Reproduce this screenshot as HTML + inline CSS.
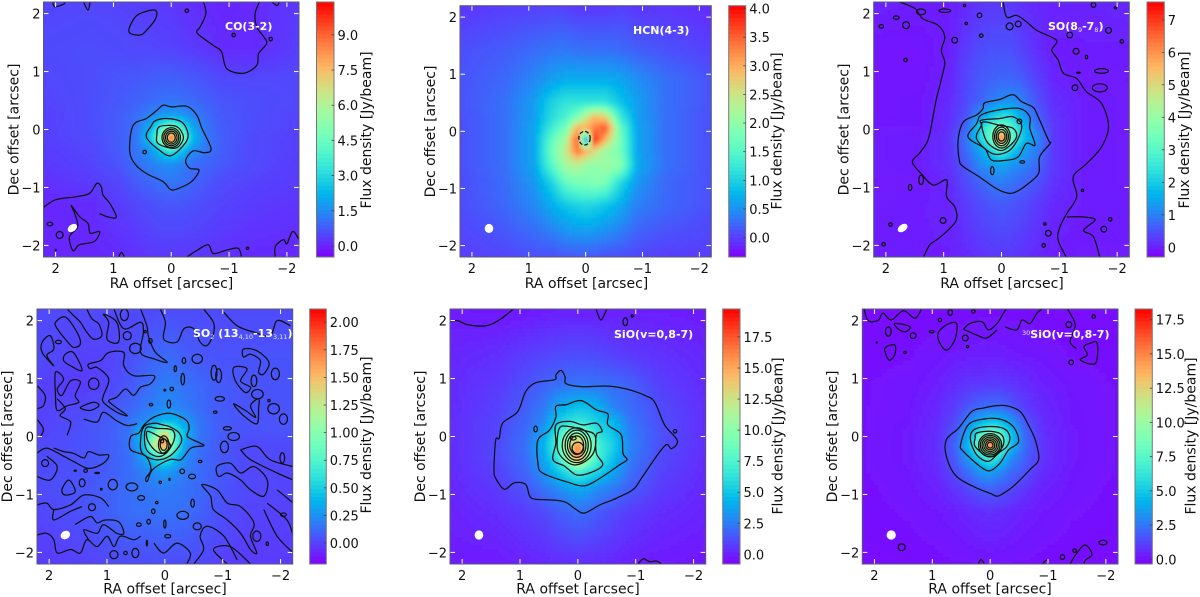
<!DOCTYPE html>
<html lang="en">
<head>
<meta charset="utf-8">
<title>Molecular line flux density maps</title>
<style>
html,body{margin:0;padding:0;background:#fff;width:1200px;height:597px;overflow:hidden}
svg{display:block}
text{font-family:"DejaVu Sans","Liberation Sans",sans-serif;fill:#111}
.axt{font-size:14px;text-anchor:middle}
.ttl{font-size:11px;font-weight:bold;fill:#fff}
.sub{font-size:6.5px;fill:#e8e8ff;font-weight:normal}
.tick{font-size:13px}
</style>
</head>
<body>
<svg id="figure" width="1200" height="597" viewBox="0 0 1200 597" xmlns="http://www.w3.org/2000/svg">
<defs>
<filter id="soft" x="-5%" y="-5%" width="110%" height="110%"><feGaussianBlur stdDeviation="1.6"/></filter>
</defs>
<g id="plots"></g>

<text class="axt" x="171.5" y="288">RA offset [arcsec]</text>
<text class="axt" transform="translate(18.5 129.5) rotate(-90)">Dec offset [arcsec]</text>
<text class="axt" transform="translate(371 130) rotate(-90)">Flux density [Jy/beam]</text>
<text class="ttl" x="225" y="30">CO(3-2)</text>

<text class="axt" x="586.5" y="288">RA offset [arcsec]</text>
<text class="axt" transform="translate(435 131.5) rotate(-90)">Dec offset [arcsec]</text>
<text class="axt" transform="translate(781.5 131) rotate(-90)">Flux density [Jy/beam]</text>
<text class="ttl" x="633" y="34">HCN(4-3)</text>

<text class="axt" x="1002" y="288">RA offset [arcsec]</text>
<text class="axt" transform="translate(848.5 129.5) rotate(-90)">Dec offset [arcsec]</text>
<text class="axt" transform="translate(1189 130) rotate(-90)">Flux density [Jy/beam]</text>
<text class="ttl" x="1048" y="30">SO(8<tspan class="sub" dy="2">9</tspan><tspan dy="-2">-7</tspan><tspan class="sub" dy="2">8</tspan><tspan dy="-2">)</tspan></text>

<text class="axt" x="165" y="593.5">RA offset [arcsec]</text>
<text class="axt" transform="translate(12 436.5) rotate(-90)">Dec offset [arcsec]</text>
<text class="axt" transform="translate(371 435) rotate(-90)">Flux density [Jy/beam]</text>
<text class="ttl" x="193" y="337">SO<tspan class="sub" dy="2">2</tspan><tspan dy="-2"> (13</tspan><tspan class="sub" dy="2">4,10</tspan><tspan dy="-2">-13</tspan><tspan class="sub" dy="2">3,11</tspan><tspan dy="-2">)</tspan></text>

<text class="axt" x="578" y="593.5">RA offset [arcsec]</text>
<text class="axt" transform="translate(425 436.5) rotate(-90)">Dec offset [arcsec]</text>
<text class="axt" transform="translate(782.5 436) rotate(-90)">Flux density [Jy/beam]</text>
<text class="ttl" x="614" y="338">SiO(v=0,8-7)</text>

<text class="axt" x="990" y="593.5">RA offset [arcsec]</text>
<text class="axt" transform="translate(837 436.5) rotate(-90)">Dec offset [arcsec]</text>
<text class="axt" transform="translate(1195.5 436) rotate(-90)">Flux density [Jy/beam]</text>
<text class="ttl" x="1022" y="338"><tspan class="sub" dy="-3">30</tspan><tspan dy="3">SiO(v=0,8-7)</tspan></text>
</svg>
<script>
/* ---------- shared axis data (arcsec) ---------- */
const raNodes = [2.2,1.4,0.9,0.6,0.35,0.15,0,-0.15,-0.35,-0.6,-0.9,-1.4,-2.2];
const decNodes = [2.2,1.4,0.9,0.5,0.25,0.05,-0.15,-0.35,-0.6,-0.9,-1.3,-2.2];
const offsetTicks = [2,1,0,-1,-2];

/* ---------- colorbar ticks ---------- */
const coBarTicks = ['0.0','1.5','3.0','4.5','6.0','7.5','9.0'];
const hcnBarTicks = ['0.0','0.5','1.0','1.5','2.0','2.5','3.0','3.5','4.0'];
const soBarTicks = ['0','1','2','3','4','5','6','7'];
const so2BarTicks = ['0.00','0.25','0.50','0.75','1.00','1.25','1.50','1.75','2.00'];
const sioBarTicks = ['0.0','2.5','5.0','7.5','10.0','12.5','15.0','17.5'];
const sio30BarTicks = ['0.0','2.5','5.0','7.5','10.0','12.5','15.0','17.5'];

/* ---------- colour ranges (Jy/beam) ---------- */
const coRange = [-0.47,10.4];
const hcnRange = [-0.34,4.05];
const soRange = [-0.3,7.55];
const so2Range = [-0.19,2.12];
const sioRange = [-0.78,19.75];
const sio30Range = [-0.34,18.28];

/* ---------- flux maps: rows by Dec, columns by RA ---------- */
const coValues = [
[.45,.5,.45,.4,.35,.3,.3,.2,.15,.1,.05,.1,.3],
[.55,.6,.55,.5,.5,.45,.45,.4,.35,.25,.1,.1,.4],
[.5,.6,.7,.75,.8,.85,.85,.8,.75,.65,.5,.5,.5],
[.45,.6,.75,.9,1,1.1,1.15,1.1,1,.85,.7,.6,.5],
[.4,.6,.8,1.05,1.4,1.7,1.85,1.75,1.4,1.05,.75,.6,.45],
[.4,.6,.8,1.15,2.2,3.8,4.5,3.8,2.1,1.15,.8,.6,.45],
[.4,.55,.8,1.2,2.8,5.5,10.3,5.5,2.6,1.25,.8,.55,.4],
[.35,.5,.8,1.2,1.7,3,3.5,2.8,1.6,1.2,.8,.55,.4],
[.3,.45,.7,1.1,1.35,1.5,1.6,1.4,1.1,.95,.75,.55,.35],
[.2,.35,.5,.8,1,1.15,1.2,1.15,.95,.75,.55,.45,.35],
[.05,.1,.35,.5,.6,.7,.7,.7,.65,.55,.45,.35,.25],
[.05,.05,.1,.2,.3,.3,.3,.3,.3,.25,.2,.1,.05]];
const hcnValues = [
[-.05,0,0,.02,0,-.05,-.05,-.05,-.05,0,-.05,-.05,-.1],
[.1,.18,.28,.33,.35,.32,.3,.3,.3,.28,.2,.12,.02],
[.12,.25,.45,.6,.7,.7,.7,.7,.7,.65,.5,.3,.12],
[.12,.3,.6,1,1.2,1.2,1.2,1.2,1.2,.9,.6,.3,.12],
[.1,.3,.6,1.1,1.4,1.8,2.4,2.9,2.7,1.3,.6,.3,.1],
[.1,.3,.65,1.3,1.8,3,3,3.3,3.6,1.7,.65,.3,.1],
[.1,.3,.65,1.6,2.2,3.7,.4,3.9,2.9,1.8,.65,.3,.1],
[.1,.3,.65,1.7,2.4,3.4,3,2.6,2.1,1.8,.65,.3,.1],
[.1,.3,.65,1.5,2.2,2.3,2.1,2,2.1,2,.7,.3,.1],
[.08,.28,.55,1,1.6,1.8,1.8,1.9,1.8,1.1,.55,.25,.1],
[.08,.25,.45,.7,.9,1,1.05,1,.9,.7,.4,.25,.1],
[0,.05,.1,.1,.15,.15,.15,.15,.1,.1,.05,0,0]];
const soValues = [
[.05,0,0,.1,.2,.25,.25,.25,.15,.1,.05,.05,.1],
[-.1,-.1,0,.3,.45,.5,.5,.5,.35,.15,0,0,0],
[-.1,-.1,.05,.4,.6,.65,.7,.7,.6,.35,.05,-.05,-.05],
[-.1,-.05,.1,.45,.7,1,1.1,1.2,1,.55,.15,0,-.05],
[-.1,-.05,.15,.5,1.3,1.9,2.2,2.2,1.4,.7,.2,0,-.05],
[-.05,-.05,.15,.7,2.2,3,3.4,3,2,.9,.25,0,-.05],
[-.05,0,.2,.9,2.2,3.5,7.3,3.5,2,1.2,.25,0,-.05],
[-.05,0,.2,.8,1.5,2.3,3,2.2,1.5,1,.25,0,-.05],
[-.05,0,.2,.6,1.2,1.4,1.5,1.3,1.1,.8,.25,0,-.05],
[-.05,-.05,.1,.45,.7,.95,1,.9,.75,.55,.2,0,-.05],
[-.05,0,.05,.3,.45,.55,.6,.55,.45,.3,.1,0,0],
[0,0,0,.1,.2,.25,.25,.25,.2,.1,0,-.05,-.05]];
const so2Values = [
[.02,.02,.02,.02,.02,.03,.03,.03,.03,.03,.03,.03,.03],
[.03,0,.01,.04,.08,.1,.12,.12,.08,.07,.05,.05,.05],
[0,-.02,.02,.07,.12,.16,.18,.18,.15,.12,.08,.06,.05],
[0,.02,.06,.11,.16,.2,.24,.22,.18,.13,.08,.05,.05],
[0,.04,.09,.15,.24,.32,.4,.42,.3,.16,.09,.05,.05],
[0,.05,.09,.16,.5,.9,1.5,.75,.42,.16,.09,.05,.05],
[.02,.05,.09,.16,.45,1.4,1.8,.9,.28,.15,.08,.02,.03],
[.02,.05,.09,.14,.32,.6,.7,.5,.25,.13,.08,.02,.02],
[.03,.05,.09,.14,.2,.27,.3,.25,.18,.13,.08,.02,.01],
[.03,.06,.1,.14,.16,.18,.18,.17,.15,.12,.07,.02,.01],
[.01,.05,.1,.14,.14,.15,.15,.15,.14,.1,.05,.01,0],
[-.02,0,.02,.03,.03,.04,.04,.03,.03,.02,0,-.02,-.02]];
const sioValues = [
[-.1,-.2,-.2,-.1,0,0,0,0,0,0,0,0,-.1],
[.2,.4,.8,1,1.1,1.2,1.2,1.2,1.1,.9,.7,.5,.2],
[.3,.7,1.3,1.8,2.1,2.2,2.3,2.3,2.2,2.1,1.8,.9,.3],
[.3,.9,1.7,2.4,3.8,4.5,4.8,4.8,4.2,2.8,2.1,1.2,.4],
[.35,1,1.9,2.9,5.2,6.2,6.6,6.3,5.3,4.6,2.4,1.3,.4],
[.35,1,2.1,3.6,6.8,9.2,9.8,8.5,6.2,5,2.6,1.4,.4],
[.35,1.1,2.2,4.3,7.4,12,17,11,7.3,5.5,2.8,1.3,.4],
[.3,1.1,2.1,3.9,6.6,11,17,11,7.2,5,2.6,1.2,.35],
[.3,.9,1.9,3.2,5,6.5,7.4,6.6,5.6,4,2.2,1,.3],
[.2,.7,1.4,2.3,2.9,3.6,4,3.8,3,2.5,1.7,.8,.2],
[.1,.4,.8,1.1,1.6,1.9,2.1,2,1.6,1.2,.8,.4,.1],
[-.1,-.1,.1,.2,.3,.3,.35,.3,.3,.2,0,-.1,-.2]];
const sio30Values = [
[-.1,-.1,-.05,-.05,-.05,0,0,0,0,0,-.05,-.1,-.1],
[0,.05,.2,.3,.35,.35,.35,.35,.3,.25,.2,.05,0],
[.05,.15,.4,.7,.9,.95,1,1,.9,.7,.4,.2,.05],
[.05,.2,.6,1.1,1.8,2.2,2.3,2.3,1.8,1.1,.6,.25,.05],
[.05,.25,.7,1.4,3.2,4.4,5,4.8,3.6,1.7,.7,.25,.05],
[.05,.3,.75,1.8,4.2,7.2,8.6,7.8,5,2.1,.8,.3,.05],
[.05,.3,.8,2.1,4.8,9.5,18,9.5,4.9,2.2,.85,.3,.05],
[.05,.3,.75,1.9,3.9,5.8,7.2,5.8,3.2,2,.85,.3,.05],
[.05,.25,.65,1.5,2.5,3.6,3.8,3.2,2.3,1.6,.7,.25,.05],
[0,.2,.45,.9,1.4,1.8,2,1.8,1.4,.9,.45,.2,0],
[0,.1,.25,.4,.6,.7,.75,.7,.6,.4,.25,.1,0],
[-.1,-.05,0,.05,.05,.1,.1,.1,.05,.05,0,-.05,-.1]];

/* ---------- contour curves: flat RA,Dec lists; first==last means closed ---------- */
const coContours = [
[.14,.42,-.01,.39,-.27,.40,-.44,.25,-.53,.02,-.69,-.33,-.58,-.40,-.38,-.37,-.25,-.53,-.32,-.67,-.48,-.70,-.35,-.90,-.09,-1.03,.02,-1.03,.14,-.90,.43,-.76,.63,-.59,.72,-.36,.66,.07,.43,.19,.25,.33,.14,.42],
[.28,.15,.08,.19,-.18,.13,-.29,-.07,-.24,-.24,0,-.45,.2,-.36,.43,-.13,.34,.07,.28,.15],
[.2,.05,-.09,.05,-.21,-.13,-.12,-.3,.02,-.32,.23,-.24,.25,-.1,.2,.05],
[-.55,2.23,-.6,2,-.5,1.77,-.45,1.66,-.73,1.45,-.87,1.34,-.96,1.05,-1.25,.97,-1.48,1.11,-1.51,1.31,-1.65,1.48,-1.6,1.6,-1.48,1.77,-1.45,2,-1.54,2.23],
[.66,1.89,.54,2,.28,2.06,.27,1.91,.43,1.71,.54,1.63,.73,1.68,.66,1.89],
[2.05,2.23,2.02,2.12,1.85,2.17,1.85,2.23],
[1.53,2.23,1.44,2.06,1.4,2.23],
[-1.71,2.23,-1.83,2.14,-1.88,2.23],
[2.3,-1.42,2.02,-1.22,1.64,-1.16,1.41,-1.1,1.29,-.93,1.21,-.99,1.18,-1.13,1.06,-1.28,.95,-1.51,1.09,-1.51,1.24,-1.45],
[1.73,-1.31,1.58,-1.51,1.44,-1.62,1.4,-1.79,1.24,-1.76,1.33,-1.93,1.59,-1.99,1.7,-2.09,1.76,-1.85,1.62,-1.68,1.67,-1.45,1.73,-1.31],
[-.24,-2.22,-.44,-2.09,-.64,-1.99,-.73,-2.14,-.96,-2.08,-1.16,-2.05,-1.22,-2.22],
[.92,-2.22,.86,-2.12,.8,-2.22],
[-1.8,-2.22,-1.8,-2.02,-1.94,-1.9,-2,-1.97,-2.1,-1.76,-2.2,-1.88,-2.25,-1.95]];
const coLoops = [0,-.14,.16,.17, 0,-.14,.13,.14, 0,-.14,.1,.11, 0,-.14,.07,.08, -.27,2.05,.03,.03, -1.08,1.63,.03,.03, -1.72,1.56,.03,.03, .46,-.39,.03,.03, -1.32,-2.05,.02,.02, 2.1,-1.63,.05,.03, 1.93,-1.82,.06,.06, 2,-2.08,.01,.01];

const hcnContours = [];
const hcnLoops = [];
const hcnDashedLoops = [.02,-.12,.1,.12];

const soContours = [
[.29,.46,.03,.52,-.2,.6,-.35,.48,-.55,.38,-.62,.25,-.81,-.18,-.84,-.24,-.66,-.47,-.64,-.76,-.43,-.96,-.26,-1.07,-.12,-1.1,.09,-1.02,.38,-.82,.66,-.64,.73,-.53,.75,-.18,.66,.13,.43,.25,.32,.36,.29,.46],
[.35,.25,.03,.34,-.32,.36,-.49,.22,-.49,.02,-.58,-.27,-.43,-.24,-.29,-.47,-.09,-.53,.17,-.53,.29,-.33,.58,-.13,.43,.1,.35,.25],
[.35,.16,.03,.19,-.2,.22,-.35,.07,-.26,-.21,-.09,-.39,.17,-.41,.43,-.16,.35,.07,.35,.16],
[.32,.13,.03,.07,-.2,.02,-.26,-.13,-.12,-.3,.03,-.36,.23,-.24,.32,-.04,.32,.13],
[1.76,2.2,1.5,2.09,1.36,1.91,1.1,1.8,.98,1.6,1.04,1.37,.98,1.17,1.01,.99,1.13,.51,1.18,.25,1.27,-.18,1.42,-.41,1.54,-.56,1.39,-.76,1.18,-.96,.95,-.87,.95,-1.16,.81,-1.33,.78,-1.56,.95,-1.76,1.13,-1.91,1.24,-1.99,1.36,-2.22],
[-.03,2.2,-.09,1.94,-.26,1.97,-.43,1.86,-.61,1.71,-.95,1.54,-.87,1.37,-.98,1.2,-1.07,.97,-1.3,.88,-1.47,.65,-1.73,.45,-1.85,.05,-1.73,-.3,-1.47,-.59,-1.24,-.82,-1.3,-1.16,-1.13,-1.45,-1.01,-1.68,-.98,-1.91,-1.13,-2.22],
[-1.13,-1.51,-1.42,-1.51,-1.62,-1.56,-1.42,-1.74,-1.59,-1.85,-1.7,-2.2]];
const soLoops = [0,-.12,.15,.2, 0,-.12,.12,.16, 0,-.12,.09,.12, 0,-.12,.06,.08, -.31,.14,.04,.04, .16,-.71,.03,.07, -.36,-.56,.04,.02, 1.65,1.8,.06,.06, 1.82,1.93,.05,.03, 2.08,1.78,.04,.03, 1.39,2.03,.08,.05, .98,2.05,.1,.03, .81,1.54,.05,.05, .35,1.62,.03,.03, .38,1.97,.04,.04, -.14,1.78,.06,.06, -.29,1.82,.05,.05, .61,1.83,.02,.02, 1.66,1.2,.03,.03, -1.29,1.35,.05,.05, -1.47,1.25,.02,.03, -1.73,1.01,.12,.04, -1.33,.98,.03,.01, -1.27,.72,.05,.05, -1.7,.72,.13,.07, 1.39,-.87,.04,.08, 1.58,-1,.03,.05, -1.4,-1.05,.02,.02, 1.01,-1.57,.05,.05, 1.92,-1.64,.03,.03, -.75,-1.63,.02,.02, -.81,-1.79,.05,.05, -1.77,-1.72,.05,.05, -1.88,-1.55,.03,.03, 2.04,-1.98,.03,.03, -.73,-2,.03,.03, -2.08,1.52,.03,.03, -1.97,2.1,.02,.02, -1.59,2.15,.04,.04, -1.18,1.63,.05,.05, -1.85,1.71,.05,.05, .64,2.14,.02,.02];

const so2Contours = [
[.18,.34,-.08,.4,-.36,.29,-.42,.14,-.39,0,-.6,-.11,-.67,-.16,-.45,-.2,-.28,-.4,-.08,-.4,.21,-.57,.3,-.77,.33,-.72,.24,-.57,.33,-.34,.59,-.23,.59,0,.45,.06,.36,.2,.18,.34],
[.36,.17,.18,.23,.04,.2,-.08,.17,-.25,.06,-.28,-.11,-.08,-.34,.16,-.4,.39,-.29,.42,-.06,.36,.17],
[.33,.14,.13,.14,-.13,.11,-.16,-.06,-.02,-.29,.16,-.34,.33,-.2,.33,.14],
[.3,.09,.1,0,-.02,-.06,-.1,-.17,.04,-.29,.18,-.23,.3,-.06,.3,.09],
[1.35,2.2,1.26,2.03,1.14,1.94,1.09,1.74,1.23,1.68,1.35,1.8,1.46,1.97,1.58,2.09,1.69,2.2],
[1.72,2.06,1.52,1.8,1.46,1.6,1.58,1.54,1.72,1.68,1.86,1.86,1.89,1.97,1.72,2.06],
[2.12,1.63,1.98,1.74,1.92,1.51,2.04,1.4,1.92,1.22,2.12,1.45,2.12,1.63],
[1.72,1.42,1.58,1.45,1.43,1.14,1.63,1.22,1.75,1.31,1.72,1.42],
[1.89,1.11,1.75,.99,1.86,.82,1.78,.71,1.63,.96,1.46,.94,1.55,.71,1.49,.59,1.69,.53,1.86,.45,1.89,.71,1.89,1.11],
[1.46,.5,1.23,.59,1.14,.53,1.29,.45,1.46,.5],
[1.32,1.25,1.11,1.31,.97,1.45,.71,1.45,.71,1.22,.54,1.05,.19,1.05,.25,.91,.42,.85,.54,.71,.68,.82,.83,.68,.97,.62,.88,.53,.65,.36,.83,.42,1.06,.59,1.06,.71,.97,.99,1.17,1.19,1.29,1.17,1.32,1.25],
[.88,2.2,.71,1.86,.42,1.97,.37,1.8,.42,1.45,.19,1.34,-.04,1.28,.16,1.45,.28,1.71,.31,1.91,.42,2.2],
[1.06,2.11,.83,1.97,.8,1.63,1,1.68,.97,1.97,1.06,2.11],
[.08,2.2,-.01,1.97,.02,1.68,-.21,1.63,-.33,1.86,-.5,1.86,-.61,1.63,-.73,1.57,-.84,1.77,-.84,1.97,-.67,2.2],
[-1.36,1.51,-1.59,1.48,-1.8,1.28,-1.71,1.08,-1.62,1.11,-1.65,1.31,-1.48,1.42,-1.36,1.37,-1.36,1.51],
[-1.19,1.19,-1.42,1.17,-1.31,.96,-1.48,.85,-1.39,.76,-1.22,.96,-1.19,1.19],
[-1.19,.56,-1.39,.45,-1.57,.33,-1.48,.53,-1.62,.65,-1.62,.48,-1.59,.22,-1.36,.36,-1.19,.56],
[-1.02,2.14,-1.25,1.91,-1.54,1.8,-1.82,1.74,-1.94,2,-2.17,1.91],
[2.21,.88,2.07,.71,2.1,.53,2.21,.48],
[2.21,.3,2.1,.13,2.15,0],
[1.86,.65,1.72,.48,1.81,.36,1.63,.25,1.69,.02],
[1.4,.3,1.17,.25,1.06,.42,.83,.27,.65,.19,.48,.22],
[2.21,-.29,2.04,-.2,1.75,-.34,1.58,-.43,1.32,-.55,1.06,-.46,.97,-.32,1.14,-.32,1.32,-.26,1.4,-.37,1.58,-.29,1.75,-.26,1.92,-.2],
[2.21,-.69,1.98,-.75,1.86,-.52,2.04,-.34],
[1.78,-.92,1.66,-.75,1.55,-.95,1.72,-1.01,1.78,-.92],
[2.21,-1.18,2.04,-1.15,1.92,-1.26,1.63,-1.18,1.4,-1.01,1.11,-1.06,.97,-1.21],
[1.92,-1.26,1.92,-1.44,1.63,-1.29,1.43,-1.21],
[1.55,-1.52,1.29,-1.38,1.17,-1.49,1.03,-1.44,.8,-1.47,.71,-1.67,.83,-1.67,1.06,-1.52,1.17,-1.67,1.4,-1.61,1.32,-1.78],
[2.21,-1.7,2.04,-1.67,1.92,-1.78,1.86,-2.01,1.63,-1.95,1.46,-2.01,1.35,-1.78,1.17,-1.9,1,-1.72,.88,-1.9,.77,-1.72,.54,-1.78,.42,-1.72],
[-.9,-.52,-1.13,-.46,-1.31,-.63,-1.54,-.52,-1.77,-.75,-1.71,-1.03,-1.48,-.92,-1.31,-.75,-1.08,-.63,-.93,-.69,-.9,-.52],
[-.64,-.83,-.9,-.92,-1.08,-1.15,-1.31,-1.21,-1.54,-1.49,-1.48,-1.72,-1.59,-2.01,-1.48,-1.95,-1.31,-1.67,-1.08,-1.44,-.84,-1.26,-.79,-1.03,-.64,-.83],
[-1.31,-.23,-1.59,-.17,-1.82,-.4,-2.22,-.52],
[-1.31,-.23,-1.48,-.4,-1.94,-.63,-2.22,-.75],
[-1.77,-1.15,-2.11,-1.44,-2.22,-1.72],
[-1.94,-.92,-2.22,-1.15],
[-1.71,-1.26,-1.94,-1.72,-2.22,-2.01],
[-1.25,-2.13,-1.02,-1.72,-.73,-1.55,-.61,-1.72,-.67,-1.95,-.5,-2.2],
[.19,-1.84,.02,-2.01,-.21,-1.84,-.44,-2.01,-.38,-2.2],
[-1.08,-2.2,-.84,-1.95,-1.13,-1.9,-1.48,-2.2]];
const so2Loops = [.02,-.14,.09,.15, .02,-.14,.06,.1, .05,-.08,.03,.03, 1.84,1.63,.05,.03, 1.23,.91,.09,.1, .65,1.74,.07,.07, .51,1.52,.1,.09, .7,2.1,.07,.1, .25,1.65,.03,.04, -.33,1.31,.03,.05, -.56,1.34,.09,.08, -.18,1.17,.02,.05, -.31,.99,.03,.1, -.12,.82,.03,.03, 0,.8,.015,.015, -.07,.56,.03,.07, .24,.55,.03,.02, .34,1.81,.02,.02, -.85,1.1,.05,.13, -.93,1.05,.05,.12, -1.54,.96,.05,.1, -1.91,1.08,.07,.1, -1.6,.73,.1,.08, -.95,.65,.08,.04, -1.88,.48,.1,.09, -2.05,.3,.07,.09, -1.08,.14,.07,.03, -.87,.42,.03,.02, -1.8,.62,.02,.02, 2.07,-.46,.06,.06, 1.43,-.8,.05,.07, 1.37,-.59,.03,.03, .9,-.83,.08,.09, .57,-.87,.1,.07, 1.1,-.91,.015,.015, 1.17,-.63,.04,.01, 1.55,-.59,.02,.01, 1.26,-1.22,.06,.06, .68,-2.01,.03,.03, .51,-2.01,.06,.08, .88,-2.04,.07,.07, .31,-1.84,.01,.05, .45,-1.52,.04,.03, .28,-1.47,.03,.04, 0,-1.51,.02,.07, .2,-1.29,.03,.04, .14,-1.14,.02,.02, .41,-1.06,.06,.04, -.48,-1.15,.03,.07, -.31,-1.36,.1,.07, -.56,-1.55,.07,.06, -.05,-1.72,.05,.03, -.3,-.6,.04,.04, -.47,-.69,.06,.04, -.61,-.43,.03,.02, -1.03,-.18,.07,.1, -1.19,0,.1,.07, .08,-.79,.02,.02, -.08,-.74,.01,.02, -2.05,-1.35,.05,.03, -2.03,-.37,.04,.09, -1.59,-1.72,.07,.09, -1.77,-1.85,.02,.03];

const sioContours = [
[.38,1.06,.29,1.14,.22,1.03,.2,.91,-.09,.86,-.52,.87,-.84,.82,-1.18,.7,-1.33,.59,-1.5,.2,-1.72,-.07,-1.62,-.21,-1.53,-.14,-1.36,-.34,-1.1,-.72,-.95,-.92,-.61,-1.09,-.38,-1.18,-.12,-1.32,.03,-1.26,.2,-1.14,.38,-1.1,.55,-1.09,.81,-1.06,.9,-.83,1.1,-.8,1.27,-.91,1.42,-.72,1.45,-.57,1.42,-.06,1.36,-.03,1.3,.23,1.04,.43,.9,.78,.72,.93,.4,.98,.38,1.06],
[.38,.52,.2,.55,-.06,.62,-.32,.46,-.52,.39,-.52,.2,-.75,.03,-.78,-.29,-.85,-.4,-.72,-.49,-.43,-.69,-.12,-.85,.2,-.78,.61,-.63,.69,-.46,.69,-.06,.49,.11,.38,.34,.38,.52],
[.38,.2,.14,.26,-.09,.2,-.32,.23,-.42,.09,-.32,.03,-.32,-.29,-.43,-.49,-.2,-.63,.03,-.66,.23,-.51,.43,-.4,.38,-.11,.38,.2],
[.32,.14,.14,.17,-.09,.11,-.29,.03,-.29,-.23,-.17,-.4,.03,-.49,.2,-.43,.35,-.23,.32,.14],
[2.23,1.98,2.08,2,1.91,1.93,1.59,1.91,1.36,2.01,1.1,2.21],
[-.31,2.21,-.4,2.01,-.5,2.2],
[-1.04,-2.2,-1.13,-2.11,-1.24,-2.16,-1.36,-2.15,-1.45,-2.2]];
const sioLoops = [.02,-.15,.25,.3, .02,-.15,.2,.26, .02,-.15,.16,.21, .02,-.15,.12,.16, .08,-.03,.05,.03, 0,-.2,.1,.1, -.82,1.98,.04,.07, -.94,2.08,.02,.02, .73,.13,.03,.05, -1.68,.09,.03,.03];

const sio30Contours = [
[.32,.43,.12,.49,-.09,.53,-.29,.53,-.52,.43,-.66,.2,-.78,-.06,-.84,-.39,-.69,-.57,-.4,-.86,-.23,-.98,-.12,-1.03,0,-.98,.23,-.89,.58,-.69,.75,-.37,.76,-.06,.55,.14,.32,.43],
[.38,.2,.12,.3,-.17,.3,-.4,.17,-.49,-.09,-.32,-.23,-.17,-.46,0,-.59,.17,-.52,.46,-.26,.51,-.14,.38,.2],
[.29,.11,.06,.17,-.23,.14,-.34,0,-.29,-.17,-.14,-.29,.03,-.43,.23,-.32,.34,-.06,.29,.11],
[.23,.06,0,.09,-.2,.03,-.23,-.14,-.09,-.32,.06,-.34,.26,-.17,.26,-.03,.23,.06],
[2.18,2.21,2.11,2,1.94,2,1.85,2.13,1.71,2.01,1.5,2.17,1.3,2.04,1.18,2.21],
[1.65,1.95,1.39,1.9,1.45,1.81,1.57,1.84,1.65,1.95],
[1.82,1.52,1.65,1.58,1.65,1.41,1.75,1.32,1.82,1.52],
[.9,1.78,.75,1.93,.58,1.95,.61,1.67,.75,1.49,.87,1.61,.9,1.78],
[.46,1.85,.35,1.95,.14,1.98,.03,1.84,-.12,1.95,-.23,2.13,-.29,2.21],
[.46,1.85,.23,1.75,.06,1.7,-.12,1.84],
[-.26,1.89,-.46,1.84,-.55,2.01,-.69,1.95,-.81,2.13,-.92,2.21],
[-1.33,2.21,-1.47,1.93,-1.38,1.64,-1.49,1.52],
[-1.62,1.55,-1.73,1.61,-1.85,1.61,-1.82,1.26,-1.56,1.32,-1.68,1.41,-1.62,1.55],
[-1.39,-2.2,-1.42,-2.13,-1.59,-1.9,-1.68,-1.89,-1.76,-2.04,-1.65,-2.13,-1.62,-2.2],
[.2,-2.2,.16,-2.12,.1,-2.2],
[-.9,-2.2,-.98,-2.13,-1.01,-2.2]];
const sio30Loops = [0,-.15,.2,.2, 0,-.15,.17,.17, 0,-.15,.14,.14, 0,-.15,.11,.11, 0,-.15,.08,.08, 0,-.15,.05,.05, 1.76,1.81,.05,.08, 1.33,1.74,.05,.05, 1.47,1.45,.02,.02, 1.96,1.62,.01,.01, .69,2.14,.04,.05, .87,2.01,.03,.03, 1.01,1.81,.04,.02, .29,2.16,.03,.03, .43,1.7,.05,.05, .39,1.55,.02,.02, -1.4,1.28,.04,.04, -1.36,1.93,.05,.05, -1.79,2.07,.03,.03, -1.95,-1.83,.07,.04, -1.25,-2.08,.04,.04, -1.46,-1.97,.03,.03, 1.53,-1.91,.06,.06];

/* beam centre, radii and tilt for each map */
const coBeam = [1.71,-1.70,.09,.06,-35];
const hcnBeam = [1.70,-1.70,.075,.08,0];
const soBeam = [1.71,-1.70,.095,.06,-35];
const so2Beam = [1.72,-1.70,.085,.07,-30];
const sioBeam = [1.71,-1.70,.075,.08,0];
const sio30Beam = [1.71,-1.70,.08,.08,0];

/* ---------- layout ---------- */
const panels = [
 {id:'co',   x0:43.5,y0:2,  x1:299,   y1:257,cx0:316.5,cx1:334,  range:coRange,   grid:coValues,   lines:coContours,   loops:coLoops,   dashed:[],             beam:coBeam,   bar:coBarTicks},
 {id:'hcn',  x0:460, y0:5.7,x1:711.3, y1:257,cx0:728.7,cx1:745.7,range:hcnRange,  grid:hcnValues,  lines:hcnContours,  loops:hcnLoops,  dashed:hcnDashedLoops, beam:hcnBeam,  bar:hcnBarTicks},
 {id:'so',   x0:873.7,y0:2, x1:1129.3,y1:257,cx0:1147, cx1:1164.3,range:soRange,  grid:soValues,   lines:soContours,   loops:soLoops,   dashed:[],             beam:soBeam,   bar:soBarTicks},
 {id:'so2',  x0:37,  y0:309,x1:292.7, y1:564,cx0:309.7,cx1:326.3,range:so2Range,  grid:so2Values,  lines:so2Contours,  loops:so2Loops,  dashed:[],             beam:so2Beam,  bar:so2BarTicks},
 {id:'sio',  x0:450, y0:309,x1:705.7, y1:564,cx0:722.7,cx1:740,  range:sioRange,  grid:sioValues,  lines:sioContours,  loops:sioLoops,  dashed:[],             beam:sioBeam,  bar:sioBarTicks},
 {id:'sio30',x0:862.3,y0:309,x1:1118, y1:564,cx0:1135, cx1:1152.3,range:sio30Range,grid:sio30Values,lines:sio30Contours,loops:sio30Loops,dashed:[],             beam:sio30Beam,bar:sio30BarTicks}
];

const NS = 'http://www.w3.org/2000/svg';
const RA_LEFT = 2.21, RA_SPAN = 4.42, DEC_TOP = 2.2, DEC_SPAN = 4.4;
const CELL = 4;

function make(tag, parent, attrs) {
  const el = document.createElementNS(NS, tag);
  for (const k in attrs) el.setAttribute(k, attrs[k]);
  parent.appendChild(el);
  return el;
}
function xScale(p, ra) { return p.x0 + (RA_LEFT - ra) / RA_SPAN * (p.x1 - p.x0); }
function yScale(p, dec) { return p.y0 + (DEC_TOP - dec) / DEC_SPAN * (p.y1 - p.y0); }
function xInv(p, px) { return RA_LEFT - (px - p.x0) / (p.x1 - p.x0) * RA_SPAN; }
function yInv(p, py) { return DEC_TOP - (py - p.y0) / (p.y1 - p.y0) * DEC_SPAN; }
function barScale(p, v) { return p.y1 - (v - p.range[0]) / (p.range[1] - p.range[0]) * (p.y1 - p.y0); }

function rainbow(t) {
  t = Math.max(0, Math.min(1, t));
  const r = Math.abs(2 * t - 0.5), g = Math.sin(Math.PI * t), b = Math.cos(Math.PI * t / 2);
  const c = v => Math.round(255 * Math.max(0, Math.min(1, v)));
  return 'rgb(' + c(r) + ',' + c(g) + ',' + c(b) + ')';
}
function bracket(nodes, v) {
  if (v >= nodes[0]) return [0, 0];
  for (let i = 0; i < nodes.length - 1; i++) {
    if (v >= nodes[i + 1]) return [i, (nodes[i] - v) / (nodes[i] - nodes[i + 1])];
  }
  return [nodes.length - 2, 1];
}
function sampleMap(grid, ra, dec) {
  const [i, fi] = bracket(raNodes, ra);
  const [j, fj] = bracket(decNodes, dec);
  const a = grid[j][i], b = grid[j][i + 1], c = grid[j + 1][i], d = grid[j + 1][i + 1];
  return (a * (1 - fi) + b * fi) * (1 - fj) + (c * (1 - fi) + d * fi) * fj;
}
function curvePath(p, flat) {
  const pts = [];
  for (let i = 0; i + 1 < flat.length; i += 2) pts.push([xScale(p, flat[i]), yScale(p, flat[i + 1])]);
  const closed = flat.length > 4 && flat[0] === flat[flat.length - 2] && flat[1] === flat[flat.length - 1];
  if (closed) pts.pop();
  const n = pts.length;
  const at = k => closed ? pts[(k + n) % n] : pts[Math.max(0, Math.min(n - 1, k))];
  let d = 'M' + pts[0][0].toFixed(1) + ' ' + pts[0][1].toFixed(1);
  const segs = closed ? n : n - 1;
  for (let k = 0; k < segs; k++) {
    const p0 = at(k - 1), p1 = at(k), p2 = at(k + 1), p3 = at(k + 2);
    d += 'C' + (p1[0] + (p2[0] - p0[0]) / 6).toFixed(1) + ' ' + (p1[1] + (p2[1] - p0[1]) / 6).toFixed(1) + ' ' +
         (p2[0] - (p3[0] - p1[0]) / 6).toFixed(1) + ' ' + (p2[1] - (p3[1] - p1[1]) / 6).toFixed(1) + ' ' +
         p2[0].toFixed(1) + ' ' + p2[1].toFixed(1);
  }
  return d + (closed ? 'Z' : '');
}
function label(parent, x, y, str, anchor) {
  const t = make('text', parent, {x: x, y: y, class: 'tick', 'text-anchor': anchor});
  t.textContent = str;
  return t;
}

const plots = document.getElementById('plots');
const defs = document.querySelector('defs');

panels.forEach(function (p) {
  const w = p.x1 - p.x0, h = p.y1 - p.y0;
  const clip = make('clipPath', defs, {id: 'clip-' + p.id});
  make('rect', clip, {x: p.x0, y: p.y0, width: w, height: h});

  const panel = make('g', plots, {});
  
  

  const inner = make('g', panel, {'clip-path': 'url(#clip-' + p.id + ')'});
  
  

  /* heatmap */
  const heat = make('g', inner, {filter: 'url(#soft)', 'shape-rendering': 'crispEdges'});
  
  
  const span = p.range[1] - p.range[0];
  for (let py = p.y0 - 8; py < p.y1 + 8; py += CELL) {
    for (let px = p.x0 - 8; px < p.x1 + 8; px += CELL) {
      const v = sampleMap(p.grid, xInv(p, px + CELL / 2), yInv(p, py + CELL / 2));
      const cell = make('rect', heat, {x: px, y: py, width: CELL + .5, height: CELL + .5, fill: rainbow((v - p.range[0]) / span)});
      
      
    }
  }

  /* contours */
  const cont = make('g', inner, {fill: 'none', stroke: '#111', 'stroke-width': 1.25});
  
  
  p.lines.forEach(function (flat) {
    const path = make('path', cont, {d: curvePath(p, flat)});
    
    
  });
  const sx = w / RA_SPAN, sy = h / DEC_SPAN;
  for (let i = 0; i + 3 < p.loops.length; i += 4) {
    const e = make('ellipse', cont, {cx: xScale(p, p.loops[i]), cy: yScale(p, p.loops[i + 1]), rx: p.loops[i + 2] * sx, ry: p.loops[i + 3] * sy});
    
    
  }
  for (let i = 0; i + 3 < p.dashed.length; i += 4) {
    const e = make('ellipse', cont, {cx: xScale(p, p.dashed[i]), cy: yScale(p, p.dashed[i + 1]), rx: p.dashed[i + 2] * sx, ry: p.dashed[i + 3] * sy, 'stroke-dasharray': '4 2'});
    
    
  }

  /* beam */
  const bx = xScale(p, p.beam[0]), by = yScale(p, p.beam[1]);
  const beam = make('ellipse', inner, {cx: bx, cy: by, rx: p.beam[2] * sx, ry: p.beam[3] * sy, fill: '#fff', transform: 'rotate(' + p.beam[4] + ' ' + bx + ' ' + by + ')'});
  
  

  /* ticks and tick labels */
  offsetTicks.forEach(function (t) {
    const tx = xScale(p, t), ty = yScale(p, t);
    [[tx, p.y0, tx, p.y0 + 5], [tx, p.y1, tx, p.y1 - 5], [p.x0, ty, p.x0 + 5, ty], [p.x1, ty, p.x1 - 5, ty]].forEach(function (s) {
      const tk = make('line', panel, {x1: s[0], y1: s[1], x2: s[2], y2: s[3], stroke: '#fff', 'stroke-width': 1});
      
      
    });
    const str = t < 0 ? '\u2212' + Math.abs(t) : String(t);
    const xl = label(panel, tx, p.y1 + 16, str, 'middle');
    
    
    const yl = label(panel, p.x0 - 3, ty + 5, str, 'end');
    
    
  });

  const frame = make('rect', panel, {x: p.x0, y: p.y0, width: w, height: h, fill: 'none', stroke: '#555a70', 'stroke-width': 1});
  
  

  /* colorbar */
  const bar = make('g', panel, {'shape-rendering': 'crispEdges'});
  
  
  const BANDS = 64;
  for (let i = 0; i < BANDS; i++) {
    const v0 = p.range[0] + span * i / BANDS, v1 = p.range[0] + span * (i + 1) / BANDS;
    const yTop = barScale(p, v1), yBot = barScale(p, v0);
    const band = make('rect', bar, {x: p.cx0, y: yTop, width: p.cx1 - p.cx0, height: yBot - yTop + .6, fill: rainbow((i + .5) / BANDS)});
    
    
  }
  const bf = make('rect', panel, {x: p.cx0, y: p.y0, width: p.cx1 - p.cx0, height: h, fill: 'none', stroke: '#777', 'stroke-width': 1});
  
  
  p.bar.forEach(function (s) {
    const y = barScale(p, Number(s));
    const tk = make('line', panel, {x1: p.cx1 - 2.5, y1: y, x2: p.cx1, y2: y, stroke: '#444', 'stroke-width': .8});
    
    
    const tl = label(panel, p.cx1 + 3.5, y + 5, s, 'start');
    
    
  });
});
</script>
</body>
</html>
